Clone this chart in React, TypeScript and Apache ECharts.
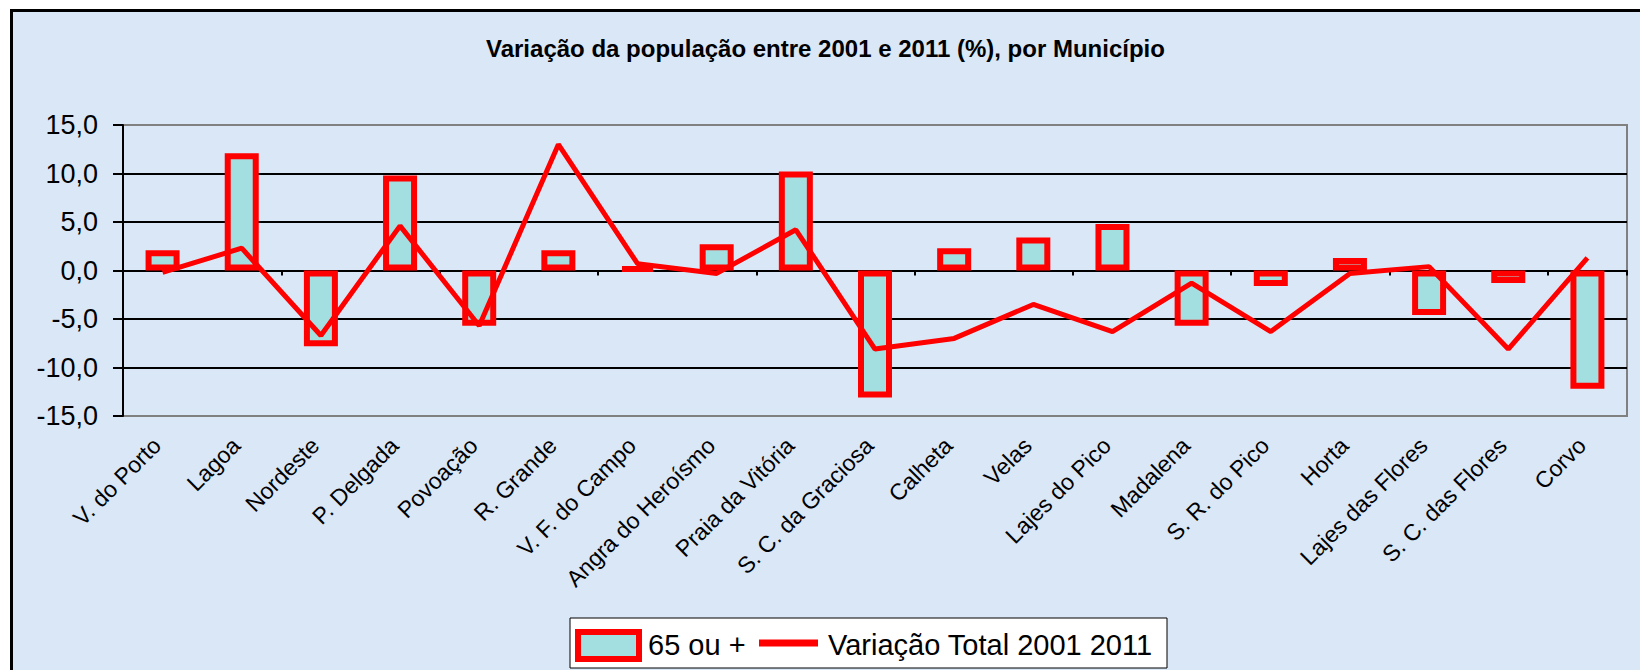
import React, { useEffect, useRef } from "react";
import * as echarts from "echarts";

const categories = [
  "V. do Porto", "Lagoa", "Nordeste", "P. Delgada", "Povoação", "R. Grande",
  "V. F. do Campo", "Angra do Heroísmo", "Praia da Vitória", "S. C. da Graciosa",
  "Calheta", "Velas", "Lajes do Pico", "Madalena", "S. R. do Pico", "Horta",
  "Lajes das Flores", "S. C. das Flores", "Corvo",
];

const seniors65 = [2.1, 12.1, -7.8, 9.8, -5.7, 2.1, 0.3, 2.7, 10.2, -13.1, 2.3, 3.4, 4.8, -5.7, -1.6, 1.3, -4.6, -1.3, -12.2];

const totalVariation = [-0.2, 2.3, -6.7, 4.6, -5.7, 13.0, 0.7, -0.3, 4.2, -8.1, -7.0, -3.5, -6.3, -1.3, -6.3, -0.3, 0.4, -8.1, 1.3];

const yTicks = { min: -15, max: 15, interval: 5 };

const seriesNames = ["65 ou +", "Variação Total 2001 2011"];
const titleText = "Variação da população entre 2001 e 2011 (%), por Município";

const FONT = "'Liberation Sans', Arial, sans-serif";
const BAR_FILL = "#a3dfe0";
const RED = "#ff0000";

export default function App() {
  const ref = useRef<HTMLDivElement>(null);
  useEffect(() => {
    if (!ref.current) return;
    const chart = echarts.init(ref.current, null, { renderer: "svg" });
    chart.setOption({
      animation: false,
      title: {
        text: titleText,
        left: 481,
        top: 31,
        textStyle: { fontSize: 24, fontWeight: "bold", fontFamily: FONT, color: "#000" },
      },
      grid: {
        left: 123,
        right: 13,
        top: 125,
        bottom: 254,
        show: true,
        borderColor: "#808080",
        borderWidth: 2,
        backgroundColor: "transparent",
      },
      legend: { show: false },
      graphic: [
        {
          type: "rect",
          z: 100,
          shape: { x: 570, y: 618, width: 597, height: 50 },
          style: { fill: "#ffffff", stroke: "#000", lineWidth: 1 },
        },
        {
          type: "rect",
          z: 101,
          shape: { x: 578, y: 632, width: 61, height: 27 },
          style: { fill: BAR_FILL, stroke: RED, lineWidth: 6 },
        },
        {
          type: "text",
          z: 101,
          style: {
            text: seriesNames[0],
            x: 648,
            y: 645,
            fontSize: 29,
            fontFamily: FONT,
            fill: "#000",
            textAlign: "left",
            textVerticalAlign: "middle",
          },
        },
        {
          type: "line",
          z: 101,
          shape: { x1: 759, y1: 643, x2: 818, y2: 643 },
          style: { stroke: RED, lineWidth: 7 },
        },
        {
          type: "text",
          z: 101,
          style: {
            text: seriesNames[1],
            x: 828,
            y: 645,
            fontSize: 29,
            fontFamily: FONT,
            fill: "#000",
            textAlign: "left",
            textVerticalAlign: "middle",
          },
        },
      ],
      xAxis: [
        {
          type: "category",
          data: categories,
          position: "bottom",
          axisLine: { show: false, onZero: false },
          axisTick: { show: false },
          splitLine: { show: false },
          axisLabel: {
            rotate: 45,
            interval: 0,
            fontSize: 23,
            margin: 20,
            padding: [0, 8, 0, 0],
            fontFamily: FONT,
            color: "#000",
          },
        },
        {
          type: "category",
          data: categories,
          position: "bottom",
          axisLine: { show: true, onZero: true, lineStyle: { color: "#000", width: 2 } },
          axisTick: { show: true, length: 5, lineStyle: { color: "#000", width: 2 } },
          axisLabel: { show: false },
          splitLine: { show: false },
        },
      ],
      yAxis: {
        type: "value",
        min: yTicks.min,
        max: yTicks.max,
        interval: yTicks.interval,
        axisLine: { show: true, lineStyle: { color: "#000", width: 2 } },
        axisTick: { show: true, length: 10, lineStyle: { color: "#000", width: 2 } },
        axisLabel: {
          fontSize: 27,
          margin: 25,
          fontFamily: FONT,
          color: "#000",
          formatter: (v: number) => v.toFixed(1).replace(".", ","),
        },
        splitLine: {
          show: true,
          lineStyle: {
            color: ["#808080", "#000", "#000", "#000", "#000", "#000", "#808080"],
            width: 2,
          },
        },
      },
      series: [
        {
          name: seriesNames[0],
          type: "bar",
          xAxisIndex: 0,
          data: seniors65,
          barWidth: 34,
          itemStyle: { color: BAR_FILL, borderColor: RED, borderWidth: 6 },
        },
        {
          name: seriesNames[1],
          type: "line",
          xAxisIndex: 0,
          data: totalVariation,
          symbol: "none",
          lineStyle: { color: RED, width: 5 },
          itemStyle: { color: RED },
        },
      ],
    });
    return () => chart.dispose();
  }, []);

  return (
    <div style={{ position: "absolute", left: 0, top: 0, width: 1640, height: 670, background: "#fff", overflow: "hidden" }}>
      <div
        style={{
          position: "absolute",
          left: 10,
          top: 9,
          width: 1700,
          height: 700,
          background: "#dae7f6",
          borderTop: "3px solid #000",
          borderLeft: "3px solid #000",
        }}
      />
      <div ref={ref} style={{ position: "absolute", left: 0, top: 0, width: 1640, height: 670 }} />
    </div>
  );
}
